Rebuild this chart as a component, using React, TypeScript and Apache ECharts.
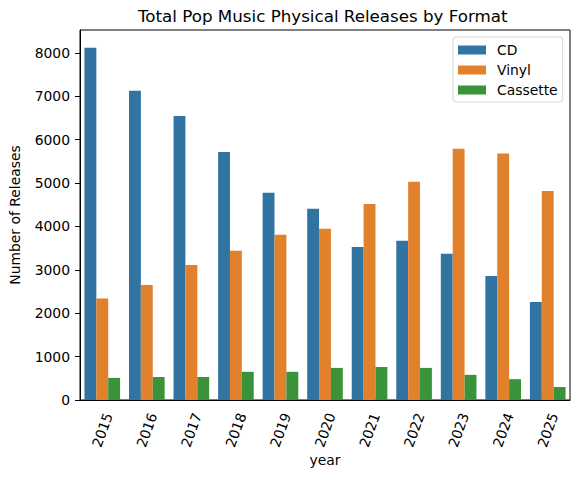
import { useEffect, useRef } from "react";
import * as echarts from "echarts";

const years = ["2015", "2016", "2017", "2018", "2019", "2020", "2021", "2022", "2023", "2024", "2025"];
const cdValues = [8120, 7130, 6550, 5720, 4780, 4410, 3530, 3670, 3370, 2860, 2260];
const vinylValues = [2340, 2650, 3115, 3440, 3810, 3950, 4520, 5030, 5790, 5680, 4820];
const cassetteValues = [510, 530, 530, 650, 650, 740, 760, 740, 580, 480, 300];
const yTicks = [0, 1000, 2000, 3000, 4000, 5000, 6000, 7000, 8000];

const FONT = "DejaVu Sans";

export default function App() {
  const chartRef = useRef<HTMLDivElement | null>(null);

  useEffect(() => {
    if (!chartRef.current) {
      return;
    }
    document.body.style.margin = "0";

    const chart = echarts.init(chartRef.current, null, { renderer: "svg" });

    chart.setOption({
      animation: false,
      backgroundColor: "#ffffff",
      textStyle: { fontFamily: FONT, color: "#000" },
      title: {
        text: "Total Pop Music Physical Releases by Format",
        left: 133,
        top: 2,
        textStyle: { fontFamily: FONT, fontSize: 16.7, fontWeight: "normal", color: "#000" },
      },
      legend: {
        orient: "vertical",
        left: 453,
        top: 37,
        padding: [6, 5, 5, 5],
        itemWidth: 28,
        itemHeight: 9,
        itemGap: 6,
        icon: "rect",
        backgroundColor: "#ffffff",
        borderColor: "#d6d6d6",
        borderWidth: 1,
        borderRadius: 3,
        textStyle: { fontFamily: FONT, fontSize: 13.9, color: "#000", padding: [0, 0, 0, 6] },
        data: ["CD", "Vinyl", "Cassette"],
      },
      grid: {
        left: 74,
        right: 10,
        top: 30,
        bottom: 77,
        show: true,
        borderColor: "#000",
        borderWidth: 1,
        backgroundColor: "transparent",
      },
      xAxis: {
        type: "category",
        data: years,
        name: "year",
        nameLocation: "middle",
        nameGap: 53,
        nameMoveOverlap: false,
        nameTextStyle: { fontFamily: FONT, fontSize: 13.9, color: "#000" },
        axisLine: { lineStyle: { color: "#000", width: 1 } },
        axisTick: { alignWithLabel: true, length: 5, lineStyle: { color: "#000" } },
        axisLabel: {
          rotate: 70,
          align: "center",
          verticalAlign: "middle",
          margin: 30,
          fontFamily: FONT,
          fontSize: 13.9,
          color: "#000",
        },
      },
      yAxis: {
        type: "value",
        min: 0,
        max: 8530,
        interval: 1000,
        name: "Number of Releases",
        nameLocation: "middle",
        nameGap: 58,
        nameMoveOverlap: false,
        nameTextStyle: { fontFamily: FONT, fontSize: 13.9, color: "#000" },
        splitLine: { show: false },
        axisLine: { show: true, lineStyle: { color: "#000", width: 1 } },
        axisTick: { show: true, length: 5, lineStyle: { color: "#000" }, customValues: yTicks },
        axisLabel: {
          margin: 10,
          fontFamily: FONT,
          fontSize: 13.9,
          color: "#000",
          customValues: yTicks,
          formatter: (value: number) => String(value),
        },
      },
      series: [
        {
          name: "CD",
          type: "bar",
          data: cdValues,
          barGap: "0%",
          barCategoryGap: "20%",
          itemStyle: { color: "#3274a1" },
        },
        {
          name: "Vinyl",
          type: "bar",
          data: vinylValues,
          barGap: "0%",
          barCategoryGap: "20%",
          itemStyle: { color: "#e1812c" },
        },
        {
          name: "Cassette",
          type: "bar",
          data: cassetteValues,
          barGap: "0%",
          barCategoryGap: "20%",
          itemStyle: { color: "#3a923a" },
        },
      ],
    });

    const handleResize = () => {
      chart.resize();
    };
    window.addEventListener("resize", handleResize);

    return () => {
      window.removeEventListener("resize", handleResize);
      chart.dispose();
    };
  }, []);

  return <div ref={chartRef} style={{ width: 580, height: 477 }} />;
}
